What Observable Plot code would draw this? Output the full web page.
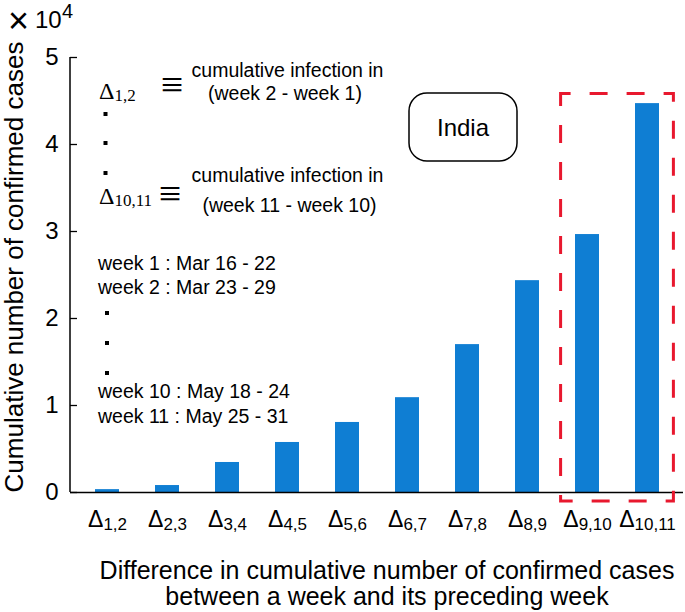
<!DOCTYPE html>
<html><head><meta charset="utf-8">
<script src="https://cdn.jsdelivr.net/npm/d3@7"></script>
<script src="https://cdn.jsdelivr.net/npm/@observablehq/plot@0.6"></script>
<style>body{margin:0;background:#fff} svg{display:block}</style>
</head><body><div id="chart"></div>
<script>
// ---- data ----
const categories = ["1,2","2,3","3,4","4,5","5,6","6,7","7,8","8,9","9,10","10,11"];
const values = [330, 800, 3450, 5750, 8050, 10900, 17000, 24350, 29650, 44700];
const yTicks = [0, 10000, 20000, 30000, 40000, 50000];
const highlighted = ["9,10", "10,11"];
const country = "India";
const yTitle = "Cumulative number of confirmed cases";
const xTitle = ["Difference in cumulative number of confirmed cases", "between a week and its preceding week"];
const defLines = [["1,2", "cumulative infection in", "(week 2 - week 1)"], ["10,11", "cumulative infection in", "(week 11 - week 10)"]];
const weekNotes = ["week 1 : Mar 16 - 22", "week 2 : Mar 23 - 29", "week 10 : May 18 - 24", "week 11 : May 25 - 31"];

const table = categories.map((c, i) => ({cat: c, value: values[i]}));

const W = 685, H = 612, ML = 70, MR = 2, MT = 57, MB = 120;
const SANS = '"Liberation Sans", Arial, sans-serif';
const SERIF = '"Liberation Serif", "Times New Roman", serif';
const BLUE = "#0f7ed3", RED = "#e8182e";

function decor(index, scales, values, dims) {
  const x = scales.x, y = scales.y;
  const bw = typeof x.bandwidth === "function" ? x.bandwidth() : x.bandwidth;
  const step = x(categories[1]) - x(categories[0]);
  const ox = dims.marginLeft, oy = dims.marginTop;
  const g = d3.create("svg:g").attr("font-family", SANS).attr("fill", "black").attr("text-anchor", "start");
  // y axis line
  g.append("line").attr("x1", ox).attr("x2", ox).attr("y1", y(50000)).attr("y2", y(0))
    .attr("stroke", "black").attr("stroke-width", 1.5);
  // highlight box
  const pad = step * 0.24;
  const bx1 = x(highlighted[0]) - pad, bx2 = x(highlighted[1]) + bw + pad;
  const by1 = y(45800), by2 = y(0) + 9;
  g.append("rect").attr("x", bx1).attr("y", by1).attr("width", bx2 - bx1).attr("height", by2 - by1)
    .attr("fill", "none").attr("stroke", RED).attr("stroke-width", 3).attr("stroke-dasharray", "18,19")
    .attr("stroke-dashoffset", 8);
  // country box
  g.append("rect").attr("x", ox + 339).attr("y", oy + 36).attr("width", 108).attr("height", 68)
    .attr("rx", 18).attr("fill", "white").attr("stroke", "black").attr("stroke-width", 1.5);
  g.append("text").attr("x", ox + 393).attr("y", oy + 79).attr("text-anchor", "middle")
    .attr("font-size", 24).text(country);
  // ×10^4 scale note
  g.append("text").attr("x", 18.5).attr("y", 33).attr("text-anchor", "middle").attr("font-size", 36).text("×");
  g.append("text").attr("x", 35).attr("y", 28).attr("font-size", 24).text("10");
  g.append("text").attr("x", 62).attr("y", 18).attr("font-size", 20).text("4");
  // definitions
  const defY = [99, 204];
  defLines.forEach((d, k) => {
    const by = defY[k];
    const t = g.append("text").attr("x", ox + 29).attr("y", by).attr("font-family", SERIF).attr("font-size", 24);
    t.append("tspan").text("Δ");
    t.append("tspan").attr("font-size", 17).attr("dy", 2).text(d[0]);
    g.append("text").attr("x", ox + 102 - (k ? 2 : 0)).attr("y", by - 1.5 + (k ? 4 : 0)).attr("text-anchor", "middle")
      .attr("font-family", SERIF).attr("font-size", 40).text("≡");
    g.append("text").attr("x", ox + 217.5).attr("y", by - 22).attr("text-anchor", "middle")
      .attr("font-size", 19.5).text(d[1]);
    g.append("text").attr("x", ox + 215 + (k ? 4.5 : 0)).attr("y", by + 1 + (k ? 7 : 0)).attr("text-anchor", "middle")
      .attr("font-size", 19.5).text(d[2]);
  });
  [114, 143, 173].forEach(cy => g.append("rect").attr("x", ox + 33.5).attr("y", cy - 2).attr("width", 4).attr("height", 4));
  // week notes
  const wy = [270, 294, 398, 423];
  weekNotes.forEach((s, k) => g.append("text").attr("x", ox + 28).attr("y", wy[k]).attr("font-size", 19.5).text(s));
  [313, 343, 373].forEach(cy => g.append("rect").attr("x", ox + 35).attr("y", cy - 2).attr("width", 4).attr("height", 4));
  return g.node();
}

const chart = Plot.plot({
  width: W, height: H, marginLeft: ML, marginRight: MR, marginTop: MT, marginBottom: MB,
  style: {fontFamily: SANS, background: "white", color: "black"},
  x: {domain: categories, paddingInner: 0.6, paddingOuter: 0.35},
  y: {domain: [0, 50000]},
  marks: [
    Plot.barY(table, {x: "cat", y: "value", fill: BLUE}),
    Plot.axisY(yTicks, {tickSize: 0, tickPadding: 12, tickFormat: d => d / 1e4, fontSize: 24, label: null}),
    Plot.tickY(yTicks, {y: d => d, insetRight: W - ML - MR - 7, stroke: "black", strokeWidth: 1.3}),
    Plot.axisX({tickSize: 0, tickPadding: 18, tickFormat: d => "Δ" + d, fontSize: 23, label: null}),
    Plot.ruleY([0], {stroke: "black", strokeWidth: 1.5}),
    Plot.text([yTitle], {frameAnchor: "left", textAnchor: "middle", rotate: -90, dx: -56, dy: -8, fontSize: 26}),
    Plot.text([xTitle.join("\n")], {frameAnchor: "bottom", textAnchor: "middle", lineAnchor: "top", dy: 68, dx: 10, fontSize: 25, lineHeight: 1.04}),
    decor
  ]
});

d3.select(chart).selectAll('g[aria-label="x-axis tick label"] text').each(function () {
  const t = d3.select(this);
  const s = t.text();
  t.text("Δ");
  t.append("tspan").attr("font-size", 17).attr("dy", 3).text(s.slice(1));
});

document.getElementById("chart").appendChild(chart);
</script>
</body></html>
